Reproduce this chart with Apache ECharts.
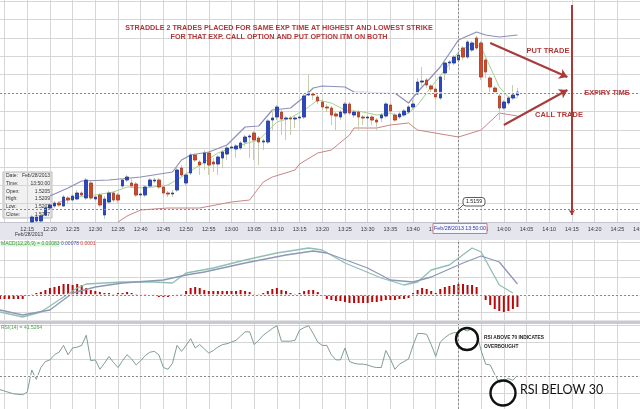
<!DOCTYPE html>
<html><head><meta charset="utf-8">
<script src="https://cdn.jsdelivr.net/npm/echarts@6/dist/echarts.min.js"></script>
<style>html,body{margin:0;padding:0;background:#fff}#c{width:640px;height:409px}</style>
</head><body><div id="c"></div>
<script>
// ---- categories (1-minute bars) ----
const minutes = [];
for (let t = 12 * 60 + 9; t <= 14 * 60 + 30; t++) {
  minutes.push(Math.floor(t / 60) + ':' + String(t % 60).padStart(2, '0'));
}
const labelEvery = 5;            // a label / grid line every 5 minutes
const crossTime = '13:50';
const expiryTime = '14:15';

// ---- candles from 12:16 ----
const candleStart = '12:16';
const candleOpen = [1.51554,1.51557,1.51557,1.51575,1.51596,1.51602,1.51611,1.51602,1.51626,1.51620,
1.51623,1.51641,1.51626,1.51671,1.51623,1.51635,1.51575,1.51614,1.51641,1.51635,
1.51662,1.51680,1.51671,1.51668,1.51635,1.51635,1.51662,1.51677,1.51680,1.51659,
1.51641,1.51638,1.51650,1.51716,1.51671,1.51701,1.51755,1.51734,1.51731,1.51761,
1.51734,1.51728,1.51746,1.51758,1.51776,1.51773,1.51776,1.51794,1.51809,1.51821,
1.51806,1.51794,1.51794,1.51860,1.51869,1.51884,1.51863,1.51866,1.51863,1.51866,
1.51869,1.51935,1.51938,1.51929,1.51914,1.51899,1.51896,1.51878,1.51869,1.51881,
1.51908,1.51875,1.51884,1.51869,1.51866,1.51869,1.51860,1.51866,1.51872,1.51905,
1.51875,1.51869,1.51875,1.51884,1.51899,1.51938,1.51974,1.51980,1.51962,1.51953,
1.51926,1.52001,1.52031,1.52031,1.52040,1.52076,1.52049,1.52070,1.52106,1.52091,
1.52040,1.51986,1.51956,1.51932,1.51896,1.51911,1.51926,1.51935];
const candleClose = [1.51569,1.51569,1.51572,1.51596,1.51605,1.51611,1.51605,1.51629,1.51620,1.51632,
1.51641,1.51635,1.51680,1.51626,1.51629,1.51605,1.51623,1.51641,1.51620,1.51620,
1.51680,1.51689,1.51662,1.51635,1.51638,1.51659,1.51680,1.51680,1.51659,1.51641,
1.51638,1.51641,1.51710,1.51695,1.51695,1.51755,1.51740,1.51725,1.51761,1.51725,
1.51728,1.51749,1.51764,1.51776,1.51779,1.51782,1.51791,1.51809,1.51812,1.51800,
1.51794,1.51797,1.51857,1.51866,1.51899,1.51863,1.51866,1.51863,1.51866,1.51869,
1.51932,1.51944,1.51935,1.51917,1.51899,1.51896,1.51875,1.51872,1.51884,1.51908,
1.51881,1.51884,1.51869,1.51866,1.51869,1.51860,1.51854,1.51875,1.51908,1.51887,
1.51860,1.51878,1.51887,1.51899,1.51908,1.51974,1.51977,1.51965,1.51953,1.51929,
1.51989,1.52031,1.52034,1.52049,1.52055,1.52049,1.52094,1.52091,1.52076,1.51989,
1.52004,1.51959,1.51944,1.51896,1.51914,1.51926,1.51935,1.51944];
const candleLow = [1.51554,1.51554,1.51554,1.51572,1.51590,1.51596,1.51599,1.51599,1.51611,1.51617,
1.51620,1.51629,1.51620,1.51620,1.51617,1.51599,1.51563,1.51608,1.51614,1.51611,
1.51656,1.51674,1.51659,1.51629,1.51626,1.51629,1.51656,1.51671,1.51653,1.51632,
1.51629,1.51629,1.51644,1.51689,1.51662,1.51695,1.51734,1.51695,1.51710,1.51695,
1.51704,1.51695,1.51716,1.51740,1.51764,1.51746,1.51770,1.51782,1.51746,1.51740,
1.51725,1.51770,1.51788,1.51830,1.51860,1.51815,1.51800,1.51815,1.51836,1.51854,
1.51863,1.51932,1.51920,1.51908,1.51890,1.51884,1.51845,1.51830,1.51860,1.51875,
1.51875,1.51866,1.51830,1.51845,1.51836,1.51845,1.51830,1.51854,1.51866,1.51881,
1.51854,1.51863,1.51869,1.51878,1.51893,1.51935,1.51962,1.51956,1.51935,1.51920,
1.51920,1.51980,1.52010,1.52025,1.52034,1.52040,1.52043,1.52064,1.52070,1.51980,
1.51986,1.51944,1.51938,1.51860,1.51890,1.51905,1.51920,1.51929];
const candleHigh = [1.51575,1.51575,1.51578,1.51602,1.51611,1.51617,1.51617,1.51635,1.51632,1.51638,
1.51650,1.51647,1.51686,1.51677,1.51635,1.51641,1.51632,1.51647,1.51647,1.51641,
1.51686,1.51695,1.51686,1.51674,1.51644,1.51665,1.51686,1.51686,1.51686,1.51665,
1.51647,1.51650,1.51716,1.51725,1.51701,1.51761,1.51761,1.51740,1.51770,1.51767,
1.51746,1.51755,1.51770,1.51782,1.51785,1.51788,1.51797,1.51815,1.51818,1.51827,
1.51812,1.51803,1.51863,1.51890,1.51905,1.51896,1.51872,1.51872,1.51872,1.51875,
1.51938,1.51995,1.51944,1.51935,1.51923,1.51908,1.51902,1.51884,1.51890,1.51914,
1.51914,1.51890,1.51890,1.51875,1.51875,1.51875,1.51866,1.51881,1.51914,1.51911,
1.51881,1.51887,1.51893,1.51905,1.51920,1.51986,1.52019,1.51986,1.51968,1.51959,
1.51995,1.52037,1.52040,1.52055,1.52061,1.52082,1.52100,1.52097,1.52112,1.52097,
1.52046,1.51992,1.51962,1.51938,1.51920,1.51932,1.51965,1.51956];

// ---- Bollinger bands (read points) ----
const upperBand = [['12:20',1.51632],['12:24',1.51656],['12:27',1.51677],['12:33',1.51680],['12:40',1.51689],
['12:47',1.51704],['12:49',1.51740],['12:51',1.51755],['12:55',1.51764],['12:59',1.51785],['13:03',1.51839],
['13:06',1.51842],['13:09',1.51890],['13:13',1.51896],['13:16',1.51929],['13:18',1.51956],['13:20',1.51962],
['13:25',1.51959],['13:27',1.51944],['13:35',1.51941],['13:36',1.51941],['13:39',1.51911],['13:41',1.51944],
['13:46',1.52019],['13:50',1.52100],['13:54',1.52124],['13:56',1.52115],['13:59',1.52109],['14:03',1.52115]];
const lowerBand = [['12:35',1.51554],['12:37',1.51572],['12:40',1.51590],['12:46',1.51596],['12:53',1.51596],
['13:00',1.51614],['13:04',1.51620],['13:07',1.51674],['13:09',1.51689],['13:14',1.51710],['13:15',1.51728],
['13:19',1.51761],['13:22',1.51770],['13:26',1.51815],['13:27',1.51836],['13:32',1.51836],['13:35',1.51845],
['13:39',1.51851],['13:41',1.51830],['13:50',1.51809],['13:55',1.51830],['13:59',1.51881],['14:03',1.51872]];
const middleBand = [['12:22',1.51614],['12:26',1.51629],['12:30',1.51635],['12:34',1.51644],['12:37',1.51659],
['12:41',1.51656],['12:46',1.51665],['12:49',1.51689],['12:53',1.51725],['12:57',1.51761],['13:02',1.51785],
['13:06',1.51800],['13:10',1.51854],['13:13',1.51866],['13:17',1.51899],['13:19',1.51920],['13:22',1.51911],
['13:25',1.51890],['13:29',1.51884],['13:32',1.51875],['13:35',1.51881],['13:37',1.51869],['13:39',1.51881],
['13:41',1.51905],['13:44',1.51959],['13:47',1.52010],['13:50',1.52064],['13:53',1.52091],['13:55',1.52079],
['13:57',1.52019],['13:59',1.51959],['14:01',1.51929],['14:03',1.51926]];
const levelPrice = 1.51941;   // dotted expiry level
const crossPrice = 1.51593;   // crosshair price 1.5159

// ---- MACD ----
const macdStart = '12:09';
const macdHist = [-0.00008,-0.00008,-0.00008,-0.00008,-0.00008,-0.00008,
-0.00002,0.00002,0.00004,0.00006,0.0001,0.00014,0.00016,0.00018,0.00022,0.00022,
0.0002,0.00022,0.0002,0.00014,0.0001,0.00008,0.00006,0.00004,0.00004,0.00002,
0.00004,0.00004,0.00006,0.00004,0.00002,0.00001,0.00002,0,0.00001,-0.00004,
-0.00004,-0.00004,0,0.00001,0.00002,0.00008,0.00014,0.00016,0.00014,0.0001,
0.00008,0.00008,0.00008,0.00008,0.00008,0.00008,0.00008,0.0001,0.00008,0.00006,
0.00002,0.00002,0.00004,0.00008,0.00012,0.00014,0.0001,0.00008,0.00004,0.00002,
0.00004,0.00008,0.0001,0.0001,0.00006,-0.00002,-0.00008,-0.0001,-0.00012,-0.00012,
-0.00014,-0.00016,-0.00016,-0.00016,-0.00016,-0.00016,-0.00014,-0.00014,-0.00012,-0.0001,
-0.0001,-0.0001,-0.00008,-0.00008,-0.00006,0.00004,0.0001,0.00014,0.00012,0.00008,
0.00004,0.00012,0.00016,0.00018,0.0002,0.00022,0.00022,0.0002,0.0002,0.00016,
-0.00002,-0.0001,-0.0002,-0.00028,-0.00032,-0.00034,-0.00032,-0.00028,-0.00024];
const macdLine = [['12:09',-0.00034],['12:14',-0.00044],['12:18',-0.00034],['12:26',0.00014],['12:28',0.00022],
['12:36',0.00026],['12:43',0.00026],['12:47',0.00024],['12:50',0.00044],['12:56',0.00054],['13:03',0.0007],
['13:10',0.00084],['13:17',0.00094],['13:20',0.0009],['13:25',0.00064],['13:33',0.00034],['13:38',0.0002],
['13:41',0.00026],['13:44',0.0005],['13:48',0.0006],['13:53',0.00094],['13:55',0.00086],['13:59',0.0002],['14:02',0.00004]];
const signalLine = [['12:09',-0.0003],['12:14',-0.0004],['12:20',-0.0003],['12:25',0.00004],['12:30',0.00016],
['12:36',0.00024],['12:45',0.0003],['12:50',0.0004],['12:54',0.00046],['13:03',0.00064],['13:12',0.0008],
['13:18',0.00088],['13:21',0.00084],['13:30',0.00054],['13:35',0.0003],['13:40',0.00026],['13:44',0.00036],
['13:51',0.00064],['13:55',0.00078],['13:59',0.00066],['14:03',0.00022]];

// ---- RSI ----
const rsiStart = '12:09';
const rsiValues = [14,null,null,9,null,8,
11,37,26,40,47,49,55,58,66,55,
63,64,66,78,48,49,38,45,53,46,
40,48,55,50,43,48,54,58,59,55,
40,38,45,66,59,66,74,63,67,62,
57,60,64,67,68,70,72,77,82,82,
67,72,78,82,86,89,71,71,71,72,
84,87,89,80,70,66,66,55,49,49,
63,47,45,44,44,43,41,40,40,60,
50,38,44,47,50,66,80,80,79,67,
53,70,75,79,81,81,85,83,86,81,
60,44,43,32,22,25,27,25,31];
const rsiLevel = 30;

// ---- annotation arrows (data coordinates) ----
const putArrow = [['13:57',1.52091],['14:14',1.51989]];
const callArrow = [['14:00',1.51845],['14:14',1.51950]];
const expiryLine = [[expiryTime,1.52205],[expiryTime,1.51575]];

// ---- build series data ----
function align(start, arr, fn) {
  const s = minutes.indexOf(start);
  return minutes.map((t, i) => {
    const k = i - s;
    if (k < 0 || k >= arr.length || arr[k] === null) return '-';
    return fn ? fn(k) : arr[k];
  });
}
const wickData = align(candleStart, candleOpen, k => [candleOpen[k], candleClose[k], candleLow[k], candleHigh[k]]);
const bodyData = align(candleStart, candleOpen, k => [candleOpen[k], candleClose[k],
  Math.min(candleOpen[k], candleClose[k]), Math.max(candleOpen[k], candleClose[k])]);
const histData = align(macdStart, macdHist);
const rsiData = align(rsiStart, rsiValues);

const ff = '"Liberation Sans", Arial, sans-serif';
const gridCol = '#d6d6d6';
const tickFn = (i) => i % labelEvery === 1;
const labelFn = (i) => i % labelEvery === 1 && i > 1;
const dash = { color: '#8a8a8a', type: [2, 2], width: 1 };
const white = { color: '#ffffff', type: 'solid', width: 1.6 };

function catAxis(gi, showLabel) {
  return {
    type: 'category', gridIndex: gi, data: minutes, boundaryGap: false,
    axisLine: { show: showLabel, lineStyle: { color: '#c4c4cc' } },
    axisTick: { show: false },
    axisLabel: { show: showLabel, interval: labelFn, fontSize: 5.5, fontFamily: ff, color: '#3a3a3a', margin: 4 },
    splitLine: { show: true, interval: tickFn, lineStyle: { color: gridCol, width: 1 } },
    z: 3
  };
}
function helperY(gi, max) {
  return { type: 'value', gridIndex: gi, min: 0, max: max, interval: 1,
    axisLine: { show: false }, axisTick: { show: false }, axisLabel: { show: false },
    splitLine: { show: true, lineStyle: { color: gridCol, width: 1 } } };
}
function helperX(gi) { return { type: 'value', gridIndex: gi, min: 0, max: 1, show: false }; }
function txt(x, y, text, font, fill, align, extra) {
  return Object.assign({ type: 'text', x: x, y: y, z: 50,
    style: { text: text, font: font, fill: fill, align: align || 'left', textAlign: align || 'left',
      verticalAlign: 'middle', textVerticalAlign: 'middle' } }, extra || {});
}
function gridBox(top, height) {
  return { left: 0, right: 0, top: top, height: height, containLabel: false, outerBoundsMode: 'none' };
}
const red = '#b23636';
const boxRows = [['Date:', 'Feb/28/2013'], ['Time:', '13:50:00'], ['Open:', '1.5205'], ['High:', '1.5209'], ['Low:', '1.5202'], ['Close:', '1.5207']];
const boxChildren = [{ type: 'rect', shape: { x: 0, y: 0, width: 49, height: 46 }, style: { fill: '#f1f1f1', stroke: '#a8a8a8', lineWidth: 0.8 } }];
boxRows.forEach((r, i) => {
  boxChildren.push(txt(3, 4 + i * 7.66, r[0], '5px ' + ff, '#333'));
  boxChildren.push(txt(47, 4 + i * 7.66, r[1], '5px ' + ff, '#333', 'right'));
});

const option = {
  animation: false,
  backgroundColor: '#ffffff',
  grid: [gridBox(0, 222), gridBox(240, 80), gridBox(324, 85), gridBox(1, 221), gridBox(242.5, 70), gridBox(325, 68)],
  xAxis: [catAxis(0, true), catAxis(1, false), catAxis(2, false), helperX(3), helperX(4), helperX(5)],
  yAxis: [
    { type: 'value', gridIndex: 0, min: 1.51554, max: 1.5222, show: false },
    { type: 'value', gridIndex: 1, min: -0.0005, max: 0.0011, show: false },
    { type: 'value', gridIndex: 2, min: -8.8, max: 91.2, show: false },
    helperY(3, 12), helperY(4, 4), helperY(5, 4)
  ],
  series: [
    { type: 'candlestick', name: 'wick', xAxisIndex: 0, yAxisIndex: 0, data: wickData, barWidth: 3, z: 3, silent: true,
      itemStyle: { color: 'rgba(0,0,0,0)', color0: 'rgba(0,0,0,0)', borderColor: '#c9cdb0', borderColor0: '#c9cdb0', borderWidth: 1 } },
    { type: 'candlestick', name: 'body', xAxisIndex: 0, yAxisIndex: 0, data: bodyData, barWidth: 3, z: 4, silent: true,
      itemStyle: { color: '#2b47c9', color0: '#cf4a2c', borderColor: '#22399f', borderColor0: '#b23a22', borderWidth: 0.8 },
      markLine: { silent: true, symbol: 'none', precision: 6, label: { show: false },
        data: [
          { yAxis: levelPrice, lineStyle: white },
          { yAxis: levelPrice, lineStyle: dash },
          { yAxis: crossPrice, lineStyle: dash },
          { xAxis: crossTime, lineStyle: dash }
        ] } },
    { type: 'line', name: 'upper', xAxisIndex: 0, yAxisIndex: 0, data: upperBand, symbol: 'none', z: 3,
      lineStyle: { color: '#8a90b8', width: 1.2 } },
    { type: 'line', name: 'lower', xAxisIndex: 0, yAxisIndex: 0, data: lowerBand, symbol: 'none', z: 3,
      lineStyle: { color: '#c98484', width: 1 } },
    { type: 'line', name: 'middle', xAxisIndex: 0, yAxisIndex: 0, data: middleBand, symbol: 'none', z: 3,
      lineStyle: { color: '#a6d08e', width: 1 },
      markLine: { silent: true, precision: 6, label: { show: false }, symbol: ['none', 'arrow'], symbolSize: 8,
        lineStyle: { color: '#a83a3a', width: 2, type: 'solid' },
        data: [
          [{ coord: putArrow[0] }, { coord: putArrow[1] }],
          [{ coord: callArrow[0] }, { coord: callArrow[1] }],
          [{ coord: expiryLine[0] }, { coord: expiryLine[1], symbolSize: 5 }]
        ] } },
    { type: 'bar', name: 'hist', xAxisIndex: 1, yAxisIndex: 1, data: histData, barWidth: 2, z: 3, silent: true,
      itemStyle: { color: '#b80a0a' },
      markLine: { silent: true, symbol: 'none', precision: 6, label: { show: false },
        data: [ { yAxis: 0, lineStyle: white }, { yAxis: 0, lineStyle: dash }, { xAxis: crossTime, lineStyle: dash } ] } },
    { type: 'line', name: 'macd', xAxisIndex: 1, yAxisIndex: 1, data: macdLine, symbol: 'none', z: 4,
      lineStyle: { color: '#8fc0b2', width: 1.3 } },
    { type: 'line', name: 'signal', xAxisIndex: 1, yAxisIndex: 1, data: signalLine, symbol: 'none', z: 4,
      lineStyle: { color: '#8e97b6', width: 1.3 } },
    { type: 'line', name: 'rsi', xAxisIndex: 2, yAxisIndex: 2, data: rsiData, symbol: 'none', connectNulls: true, z: 4,
      lineStyle: { color: '#809e90', width: 1 },
      markLine: { silent: true, symbol: 'none', precision: 6, label: { show: false },
        data: [ { yAxis: rsiLevel, lineStyle: white }, { yAxis: rsiLevel, lineStyle: dash }, { xAxis: crossTime, lineStyle: dash } ] } }
  ],
  graphic: [
    { type: 'rect', z: -1, shape: { x: 0, y: 222.5, width: 640, height: 17.5 }, style: { fill: '#e5e5ee' } },
    { type: 'rect', z: -1, shape: { x: 0, y: 320.5, width: 640, height: 3.5 }, style: { fill: '#c9c9cf' } },
    txt(15, 235, 'Feb/28/2013', '5px ' + ff, '#333'),
    txt(279, 28, 'STRADDLE 2 TRADES PLACED FOR SAME EXP TIME AT HIGHEST AND LOWEST STRIKE', 'bold 7.2px ' + ff, red, 'center'),
    txt(279, 37, 'FOR THAT EXP. CALL OPTION AND PUT OPTION ITM ON BOTH', 'bold 7.2px ' + ff, red, 'center'),
    txt(548, 51, 'PUT TRADE', 'bold 7.5px ' + ff, red, 'center'),
    txt(607, 93, 'EXPIRY TIME', 'bold 7.2px ' + ff, red, 'center'),
    txt(559, 115, 'CALL TRADE', 'bold 7.5px ' + ff, red, 'center'),
    { type: 'group', x: 3, y: 172, z: 60, children: boxChildren },
    { type: 'rect', z: 60, shape: { x: 433, y: 223.5, width: 54, height: 10 }, style: { fill: '#f6f6ff', stroke: '#d05a5a', lineWidth: 0.8 } },
    txt(460, 228.5, 'Feb/28/2013 13:50:00', '5.3px ' + ff, '#2a3aa0', 'center', { z: 61 }),
    { type: 'line', z: 60, shape: { x1: 459, y1: 209, x2: 464, y2: 204 }, style: { stroke: '#333', lineWidth: 0.8 } },
    { type: 'rect', z: 60, shape: { x: 463, y: 197.5, width: 22, height: 8.5, r: 3 }, style: { fill: '#ffffff', stroke: '#333', lineWidth: 0.8 } },
    txt(474, 201.8, '1.5159', '5.3px ' + ff, '#222', 'center', { z: 61 }),
    { type: 'text', x: 1, y: 244, z: 50, style: { text: '{g|MACD(12,26,9) = 0.00083}{s| }{b|0.00078}{s| }{r|0.0001}', font: '5px ' + ff,
      verticalAlign: 'middle', textVerticalAlign: 'middle',
      rich: { g: { fill: '#3e9a3e', backgroundColor: '#dff1df', fontSize: 5, fontFamily: ff },
              b: { fill: '#5050c0', fontSize: 5, fontFamily: ff }, r: { fill: '#d04040', fontSize: 5, fontFamily: ff },
              s: { fontSize: 5 } } } },
    txt(1, 328, 'RSI(14) = 41.5264', '5px ' + ff, '#4f9e4f'),
    { type: 'circle', z: 50, shape: { cx: 467, cy: 339, r: 11 }, style: { fill: 'none', stroke: '#111', lineWidth: 2.4 } },
    { type: 'circle', z: 50, shape: { cx: 503, cy: 393, r: 12.5 }, style: { fill: 'none', stroke: '#111', lineWidth: 2.4 } },
    txt(484, 338, 'RSI ABOVE 70 INDICATES', 'bold 4.8px ' + ff, '#222'),
    txt(484, 347, 'OVERBOUGHT', 'bold 4.8px ' + ff, '#222'),
    txt(520, 390, 'RSI BELOW 30', '12.5px Lato, "Open Sans", sans-serif', '#111')
  ]
};
echarts.init(document.getElementById('c'), null, { renderer: 'canvas' }).setOption(option);
</script>
</body></html>
